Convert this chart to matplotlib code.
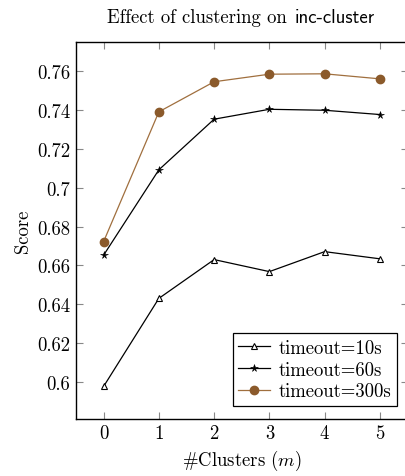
import matplotlib
matplotlib.use("Agg")
import matplotlib.pyplot as plt
from matplotlib.ticker import FixedLocator, FuncFormatter

plt.rcParams['font.family'] = 'serif'
plt.rcParams['font.serif'] = ['cmr10']
plt.rcParams['mathtext.fontset'] = 'cm'
plt.rcParams['axes.unicode_minus'] = False
plt.rcParams['axes.formatter.use_mathtext'] = True

clusters = [0, 1, 2, 3, 4, 5]
timeout_10s = [0.5976, 0.6430, 0.6630, 0.6568, 0.6671, 0.6634]
timeout_60s = [0.6653, 0.7093, 0.7354, 0.7405, 0.7400, 0.7378]
timeout_300s = [0.6723, 0.7392, 0.7547, 0.7586, 0.7588, 0.7562]
y_ticks = [0.60, 0.62, 0.64, 0.66, 0.68, 0.70, 0.72, 0.74, 0.76]
series_labels = ['timeout=10s', 'timeout=60s', 'timeout=300s']

W, H = 406, 477
fig = plt.figure(figsize=(W / 100, H / 100), dpi=100)
ax_right = 407.5
ax = fig.add_axes([76 / W, 1 - 420 / H, (ax_right - 76) / W, (420 - 43) / H])

fs = 13.5
brown_line = '#a06f3e'
brown_fill = '#8b5a2b'

ax.plot(clusters, timeout_10s, color='black', lw=0.9, marker='^', ms=5,
        mfc='white', mec='black', mew=0.8, label=series_labels[0])
ax.plot(clusters, timeout_60s, color='black', lw=0.9, marker='*', ms=5.5,
        mfc='black', mec='black', mew=0.4, label=series_labels[1])
ax.plot(clusters, timeout_300s, color=brown_line, lw=0.9, marker='o', ms=6,
        mfc=brown_fill, mec=brown_fill, label=series_labels[2])

ax.set_xlim(-0.5, 5.5)
ax.set_ylim(0.5808, 0.7752)
ax.xaxis.set_major_locator(FixedLocator(clusters))
ax.yaxis.set_major_locator(FixedLocator(y_ticks))
ax.yaxis.set_major_formatter(FuncFormatter(lambda v, p: ('%g' % round(v, 4))))
ax.xaxis.set_major_formatter(FuncFormatter(lambda v, p: '%d' % v))

ax.tick_params(direction='in', length=4.8, width=0.8, color='#888888',
               top=True, right=True, labelsize=fs, pad=4)
for s in ax.spines.values():
    s.set_linewidth(1.0)
    s.set_color('black')

ax.set_ylabel('Score', fontsize=fs, labelpad=4)
ax.set_xlabel(r'#Clusters ($m$)', fontsize=fs, labelpad=4)

anchor_x = (397 - 76) / (ax_right - 76)
anchor_y = (420 - 407) / (420 - 43)
leg = ax.legend(loc='lower right', bbox_to_anchor=(anchor_x, anchor_y), borderaxespad=0,
                fontsize=fs, frameon=True, fancybox=False, framealpha=1,
                edgecolor='black', handlelength=1.7, handletextpad=0.45,
                borderpad=0.3, labelspacing=0.2)
leg.get_frame().set_linewidth(0.9)

fig.text(293 / W, 1 - 18 / H, 'Effect of clustering on ', ha='right', va='center',
         fontsize=fs, family='cmr10')
fig.text(295 / W, 1 - 18 / H, 'inc-cluster', ha='left', va='center',
         fontsize=fs, family='cmss10')

fig.savefig('out.png', dpi=100)
